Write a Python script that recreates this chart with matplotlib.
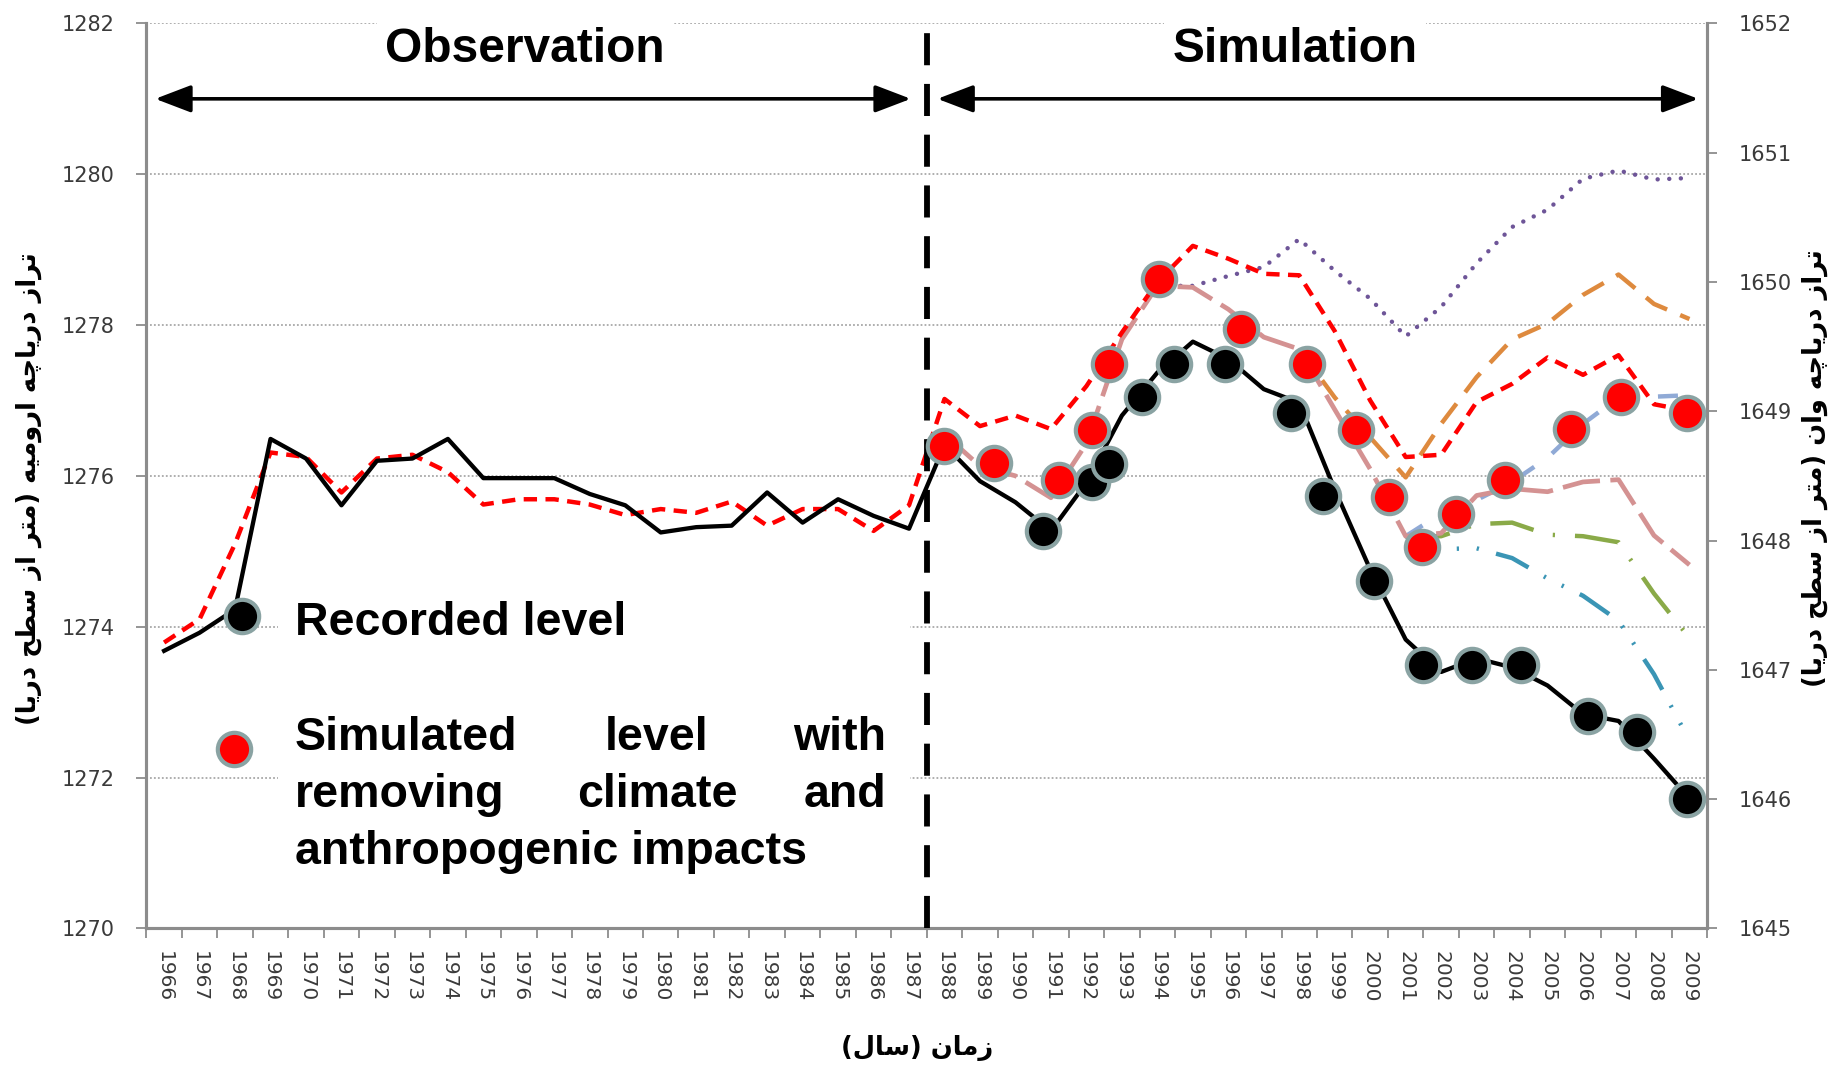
import numpy as np
import matplotlib
matplotlib.use("Agg")
import matplotlib.pyplot as plt
from matplotlib.patches import Rectangle

# ---------------- data ----------------
years = list(range(1966, 2010))
recorded = [1273.68, 1273.92, 1274.23, 1276.49, 1276.23, 1275.61, 1276.20, 1276.23, 1276.49, 1275.97,
            1275.97, 1275.97, 1275.76, 1275.61, 1275.25, 1275.32, 1275.34, 1275.78, 1275.38, 1275.69,
            1275.47, 1275.30,
            1276.41, 1275.93, 1275.65, 1275.27, 1275.91, 1276.80, 1277.37, 1277.78, 1277.55, 1277.15,
            1276.97, 1275.82, 1274.76, 1273.83, 1273.40, 1273.58, 1273.46, 1273.22, 1272.84, 1272.75,
            1272.25, 1271.72]
simulated = [1273.79, 1274.10, 1275.10, 1276.31, 1276.25, 1275.78, 1276.23, 1276.28, 1276.05, 1275.62,
             1275.69, 1275.69, 1275.62, 1275.48, 1275.56, 1275.51, 1275.66, 1275.34, 1275.56, 1275.56,
             1275.27, 1275.61,
             1277.02, 1276.66, 1276.80, 1276.62, 1277.19, 1277.90, 1278.57, 1279.05, 1278.88, 1278.68,
             1278.66, 1277.92, 1277.00, 1276.25, 1276.28, 1276.98, 1277.22, 1277.57, 1277.34, 1277.60,
             1276.95, 1276.86]

sim_years = list(range(1988, 2010))
scen_pink = [1276.55, 1276.13, 1276.00, 1275.71, 1276.43, 1277.81, 1278.52, 1278.50, 1278.21, 1277.84,
             1277.68, 1276.88, 1276.09, 1275.20, 1275.24, 1275.74, 1275.83, 1275.79, 1275.92, 1275.95,
             1275.21, 1274.82]
purple_years = list(range(1994, 2010))
scen_purple = [1278.52, 1278.52, 1278.65, 1278.77, 1279.14, 1278.72, 1278.35, 1277.85, 1278.24, 1278.82,
               1279.30, 1279.53, 1279.94, 1280.05, 1279.93, 1279.95]
orange_years = list(range(1998, 2010))
scen_orange = [1277.68, 1277.04, 1276.51, 1275.98, 1276.69, 1277.31, 1277.81, 1278.02, 1278.40, 1278.67,
               1278.28, 1278.08]
late_years = list(range(2001, 2010))
scen_lightblue = [1275.20, 1275.50, 1275.68, 1275.92, 1276.24, 1276.69, 1277.04, 1277.05, 1277.07]
scen_green = [1275.20, 1275.20, 1275.36, 1275.38, 1275.22, 1275.20, 1275.12, 1274.44, 1273.85]
scen_teal = [1275.20, 1275.03, 1275.04, 1274.91, 1274.64, 1274.41, 1274.08, 1273.37, 1272.49]

black_marker_years = [1990.77, 1992.17, 1992.64, 1993.56, 1994.48, 1995.90, 1997.76, 1998.68, 2000.10,
                      2001.49, 2002.86, 2004.25, 2006.14, 2007.53, 2008.92]
black_marker_vals = [1275.27, 1275.92, 1276.16, 1277.05, 1277.49, 1277.49, 1276.83, 1275.73, 1274.60,
                     1273.49, 1273.49, 1273.49, 1272.81, 1272.60, 1271.72]
red_marker_years = [1987.99, 1989.39, 1991.23, 1992.17, 1992.64, 1994.04, 1996.37, 1998.21, 1999.60,
                    2000.54, 2001.47, 2002.41, 2003.80, 2005.67, 2007.06, 2008.92]
red_marker_vals = [1276.39, 1276.17, 1275.95, 1276.61, 1277.49, 1278.61, 1277.95, 1277.49, 1276.61,
                   1275.72, 1275.06, 1275.50, 1275.95, 1276.62, 1277.05, 1276.83]

left_ticks = [1270, 1272, 1274, 1276, 1278, 1280, 1282]
right_ticks = [1645, 1646, 1647, 1648, 1649, 1650, 1651, 1652]
split_year = 1987.5

# ---------------- Persian shaping helper ----------------
_FORMS = {
    '\u0627': ('\uFE8D', '\uFE8E', None, None),
    '\u062A': ('\uFE95', '\uFE96', '\uFE97', '\uFE98'),
    '\u0631': ('\uFEAD', '\uFEAE', None, None),
    '\u0632': ('\uFEAF', '\uFEB0', None, None),
    '\u062F': ('\uFEA9', '\uFEAA', None, None),
    '\u06CC': ('\uFBFC', '\uFBFD', '\uFBFE', '\uFBFF'),
    '\u064A': ('\uFBFC', '\uFBFD', '\uFBFE', '\uFBFF'),
    '\u0686': ('\uFB7A', '\uFB7B', '\uFB7C', '\uFB7D'),
    '\u0647': ('\uFEE9', '\uFEEA', '\uFEEB', '\uFEEC'),
    '\u0648': ('\uFEED', '\uFEEE', None, None),
    '\u0645': ('\uFEE1', '\uFEE2', '\uFEE3', '\uFEE4'),
    '\u0646': ('\uFEE5', '\uFEE6', '\uFEE7', '\uFEE8'),
    '\u0633': ('\uFEB1', '\uFEB2', '\uFEB3', '\uFEB4'),
    '\u0637': ('\uFEC1', '\uFEC2', '\uFEC3', '\uFEC4'),
    '\u062D': ('\uFEA1', '\uFEA2', '\uFEA3', '\uFEA4'),
    '\u0644': ('\uFEDD', '\uFEDE', '\uFEDF', '\uFEE0'),
}


def fa(s):
    out = []
    n = len(s)
    for k, c in enumerate(s):
        if c not in _FORMS:
            out.append(c)
            continue
        iso, fin, ini, med = _FORMS[c]
        prev = s[k - 1] if k > 0 else ''
        nxt = s[k + 1] if k < n - 1 else ''
        jp = prev in _FORMS and _FORMS[prev][2] is not None
        jn = ini is not None and nxt in _FORMS
        if jp and jn:
            out.append(med)
        elif jp:
            out.append(fin)
        elif jn:
            out.append(ini)
        else:
            out.append(iso)
    vis = ''.join(reversed(out))
    return vis.translate(str.maketrans('()', ')('))


left_label = fa("تراز دریاچه ارومیه (متر از سطح دریا)")
right_label = fa("تراز دریاچه وان (متر از سطح دریا)")
x_label = fa("زمان (سال)")

# ---------------- figure ----------------
W, H = 1568.0, 914.0  # reference layout units
fig = plt.figure(figsize=(18.36, 10.70), dpi=100)
ax = fig.add_axes([125 / W, 1 - 793 / H, (1458 - 125) / W, (793 - 20) / H])
ax2 = ax.twinx()


def xi(yrs):
    return [y - years[0] for y in yrs]


grey = '#8C8C8C'
tick_col = '#3A3A3A'
ax.set_xlim(-0.5, len(years) - 0.5)
ax.set_ylim(left_ticks[0], left_ticks[-1])
ax2.set_ylim(right_ticks[0], right_ticks[-1])
ax.set_yticks(left_ticks)
ax2.set_yticks(right_ticks)
ax.set_xticks(range(len(years)))
ax.set_xticklabels([str(y) for y in years], rotation=270, fontsize=14.5, color=tick_col,
                   family='DejaVu Sans')
ax.set_xticks(np.arange(-0.5, len(years), 1.0), minor=True)
ax.tick_params(axis='x', which='major', length=0, pad=16)
ax.tick_params(axis='x', which='minor', length=7, color=grey, width=1.3)
ax.tick_params(axis='y', length=7, color=grey, width=1.3, labelsize=15, labelcolor=tick_col, pad=16)
ax2.tick_params(axis='y', length=7, color=grey, width=1.3, labelsize=15, labelcolor=tick_col, pad=16)
for lab in ax.get_yticklabels() + ax2.get_yticklabels():
    lab.set_family('DejaVu Sans')

for a in (ax, ax2):
    a.spines['top'].set_visible(False)
    for s in ('left', 'right', 'bottom'):
        a.spines[s].set_color(grey)
        a.spines[s].set_linewidth(2.2)
ax.yaxis.grid(True, linestyle=(0, (1, 1.2)), color='#A8A8A8', linewidth=1.3)
ax.set_axisbelow(True)
ax.set_zorder(ax2.get_zorder() + 1)
ax.patch.set_visible(False)

# scenario lines
ax.plot(xi(purple_years), scen_purple, color='#6E5598', lw=3.2, dashes=(0.01, 2.6),
        dash_capstyle='round', zorder=3)
ax.plot(xi(orange_years), scen_orange, color='#DE8A3E', lw=3.2, dashes=(5.5, 3.2), zorder=3)
ax.plot(xi(late_years), scen_teal, color='#3A95B5', lw=3.2, dashes=(8, 4, 0.5, 4, 0.5, 4), zorder=3)
ax.plot(xi(late_years), scen_green, color='#8AAA48', lw=3.2, dashes=(10, 4.5, 0.5, 4.5), zorder=3)
ax.plot(xi(late_years), scen_lightblue, color='#90AAD6', lw=3.2, dashes=(4.5, 5), zorder=3)
ax.plot(xi(sim_years), scen_pink, color='#D49292', lw=3.4, dashes=(8, 2.2), zorder=3.5)

# simulated and recorded
ax.plot(xi(years), simulated, color='#FF0000', lw=3.2, dashes=(3.0, 1.9), zorder=4)
ax.plot(xi(years), recorded, color='black', lw=3.1, zorder=5)

mk = dict(marker='o', ms=24, mew=3.0, mec='#8AA3A3', ls='none', zorder=6)
ax.plot(xi(black_marker_years), black_marker_vals, mfc='black', **mk)
ax.plot(xi(red_marker_years), red_marker_vals, mfc='#FF0000', **mk)

# split line
ax.axvline(split_year - years[0], color='black', lw=4.2, dashes=(5.5, 3.2), zorder=4.5)

# arrows
arrow_y = 1281.0
ap = dict(arrowstyle='<|-|>,head_length=1.1,head_width=0.42', color='black', lw=2.6,
          mutation_scale=20, shrinkA=0, shrinkB=0)
ax.annotate('', xy=(-0.25, arrow_y), xytext=(21.05, arrow_y), arrowprops=ap, zorder=7)
ax.annotate('', xy=(21.8, arrow_y), xytext=(43.25, arrow_y), arrowprops=ap, zorder=7)

# titles of the two periods
tfont = dict(family=['Liberation Sans', 'DejaVu Sans'], fontweight='bold', fontsize=34.5)
fig.text(448 / W, 1 - 42 / H, 'Observation', ha='center', va='center', zorder=10,
         bbox=dict(facecolor='white', edgecolor='none', pad=6), **tfont)
fig.text(1106 / W, 1 - 42 / H, 'Simulation', ha='center', va='center', zorder=10,
         bbox=dict(facecolor='white', edgecolor='none', pad=6), **tfont)

# legend box
fig.patches.append(Rectangle((237 / W, 1 - 775 / H), (777 - 237) / W, (775 - 500) / H,
                             transform=fig.transFigure, facecolor='white', edgecolor='none',
                             zorder=8))
fig.lines.append(matplotlib.lines.Line2D([207 / W], [1 - 526 / H], transform=fig.transFigure,
                                         marker='o', ms=24, mew=3.0, mec='#8AA3A3', mfc='black',
                                         zorder=9))
fig.lines.append(matplotlib.lines.Line2D([200 / W], [1 - 640 / H], transform=fig.transFigure,
                                         marker='o', ms=24, mew=3.0, mec='#8AA3A3', mfc='#FF0000',
                                         zorder=9))
lfont = dict(family=['Liberation Sans', 'DejaVu Sans'], fontweight='bold', fontsize=33.5, zorder=10)
fig.text(252 / W, 1 - 532 / H, 'Recorded level', ha='left', va='center', **lfont)
lines_words = [["Simulated", "level", "with"], ["removing", "climate", "and"],
               ["anthropogenic impacts"]]
line_ys = [630, 679, 728]
for words, ly in zip(lines_words, line_ys):
    yy = 1 - ly / H
    if len(words) == 1:
        fig.text(252 / W, yy, words[0], ha='left', va='center', **lfont)
    else:
        fig.text(252 / W, yy, words[0], ha='left', va='center', **lfont)
        fig.text(561 / W, yy, words[1], ha='center', va='center', **lfont)
        fig.text(757 / W, yy, words[2], ha='right', va='center', **lfont)

# axis labels (Persian)
pfont = dict(family=['DejaVu Sans'], fontweight='bold', fontsize=18.5)
fig.text(25 / W, 1 - 417 / H, left_label, rotation=90, ha='center', va='center', **pfont)
fig.text(1550 / W, 1 - 400 / H, right_label, rotation=90, ha='center', va='center', **pfont)
fig.text(783 / W, 1 - 895 / H, x_label, ha='center', va='center', **pfont)

fig.savefig('out.png', dpi=100, facecolor='white')
